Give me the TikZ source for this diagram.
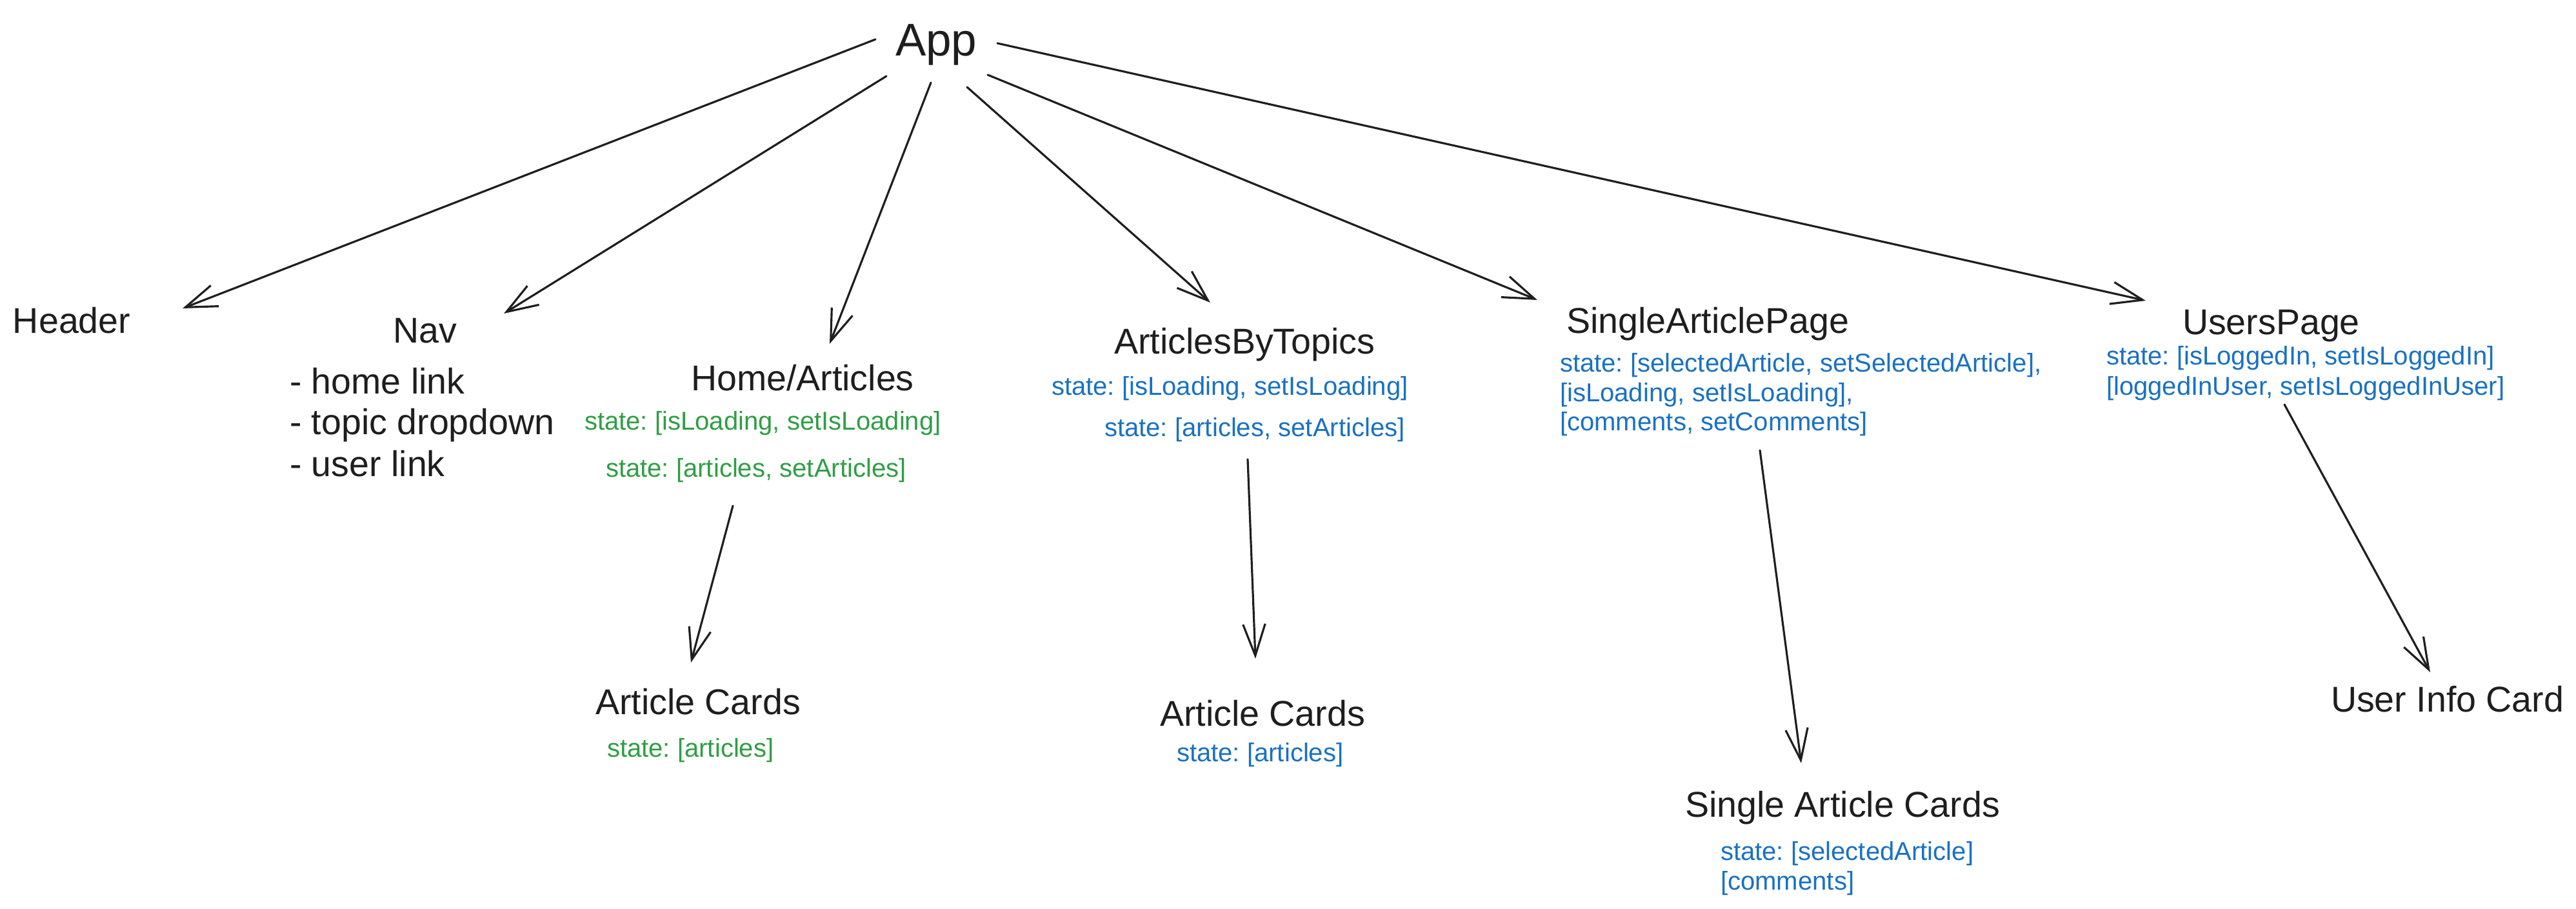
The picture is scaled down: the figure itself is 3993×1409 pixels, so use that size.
\documentclass[tikz,border=0pt]{standalone}
\usepackage{fontspec}
\setmainfont{Liberation Sans}
\usetikzlibrary{arrows.meta}
\definecolor{ink}{HTML}{1E1E1E}
\definecolor{sgreen}{HTML}{2F9E44}
\definecolor{sblue}{HTML}{1971C2}
\frenchspacing
\begin{document}
\begin{tikzpicture}[x=0.01cm,y=-0.01cm,
  txt/.style={anchor=base west, inner sep=0pt, outer sep=0pt},
  title/.style={txt, text=ink, font=\fontsize{20.2pt}{24pt}\selectfont},
  lbl/.style={txt, text=ink, font=\fontsize{15.8pt}{19pt}\selectfont},
  gstate/.style={txt, text=sgreen, font=\fontsize{11.4pt}{13pt}\selectfont},
  bstate/.style={txt, text=sblue, font=\fontsize{11.4pt}{13pt}\selectfont},
  arr/.style={draw=ink, line width=0.9pt, line cap=round, line join=round,
    -{Straight Barb[length=13.9pt,width=9.8pt]}}]
\fill[white] (0,0) rectangle (3993,1409);
\useasboundingbox (0,0) rectangle (3993,1409);

% nodes
\node[title] (app) at (1388,86) {App};
\node[lbl] (header) at (20,516) {Header};
\node[lbl] (nav) at (609,531) {Nav};
\node[lbl] (nav1) at (449,610) {- home link};
\node[lbl] (nav2) at (449,673) {- topic dropdown};
\node[lbl] (nav3) at (449,738) {- user link};
\node[lbl] (home) at (1071,605) {Home/Articles};
\node[gstate] (homes1) at (906,666) {state: [isLoading, setIsLoading]};
\node[gstate] (homes2) at (939,739) {state: [articles, setArticles]};
\node[lbl] (abt) at (1727,548) {ArticlesByTopics};
\node[bstate] (abts1) at (1630,612) {state: [isLoading, setIsLoading]};
\node[bstate] (abts2) at (1712,676) {state: [articles, setArticles]};
\node[lbl] (sap) at (2428,516) {SingleArticlePage};
\node[bstate] (saps1) at (2418,576) {state: [selectedArticle, setSelectedArticle],};
\node[bstate] (saps2) at (2418,622) {[isLoading, setIsLoading],};
\node[bstate] (saps3) at (2418,667) {[comments, setComments]};
\node[lbl] (up) at (3383,518) {UsersPage};
\node[bstate] (ups1) at (3265,565) {state: [isLoggedIn, setIsLoggedIn]};
\node[bstate] (ups2) at (3265,612) {[loggedInUser, setIsLoggedInUser]};
\node[lbl] (ac1) at (923,1107) {Article Cards};
\node[gstate] (ac1s) at (941,1173) {state: [articles]};
\node[lbl] (ac2) at (1798,1125) {Article Cards};
\node[bstate] (ac2s) at (1824,1180) {state: [articles]};
\node[lbl] (sac) at (2612,1266) {Single Article Cards};
\node[bstate] (sacs1) at (2667,1333) {state: [selectedArticle]};
\node[bstate] (sacs2) at (2667,1379) {[comments]};
\node[lbl] (uic) at (3613,1103) {User Info Card};

% connector ports
\coordinate (app-o1) at (1357,61);
\coordinate (app-o2) at (1374,118);
\coordinate (app-o3) at (1443,128);
\coordinate (app-o4) at (1499,135);
\coordinate (app-o5) at (1531,116);
\coordinate (app-o6) at (1546,67);
\coordinate (header-in) at (283,478);
\coordinate (nav-in) at (781,486);
\coordinate (home-in) at (1286,533);
\coordinate (abt-in) at (1876,469);
\coordinate (sap-in) at (2383,465);
\coordinate (up-in) at (3326,466);
\coordinate (home-out) at (1136,784);
\coordinate (ac1-in) at (1071,1027);
\coordinate (abt-out) at (1934,712);
\coordinate (ac2-in) at (1946,1021);
\coordinate (sap-out) at (2728,698);
\coordinate (sac-in) at (2792,1183);
\coordinate (up-out) at (3541,627);
\coordinate (uic-in) at (3767,1042);

% connectors
\draw[arr] (app-o1) -- (header-in);
\draw[arr] (app-o2) -- (nav-in);
\draw[arr] (app-o3) -- (home-in);
\draw[arr] (app-o4) -- (abt-in);
\draw[arr] (app-o5) -- (sap-in);
\draw[arr] (app-o6) -- (up-in);
\draw[arr] (home-out) -- (ac1-in);
\draw[arr] (abt-out) -- (ac2-in);
\draw[arr] (sap-out) -- (sac-in);
\draw[arr] (up-out) -- (uic-in);
\end{tikzpicture}
\end{document}
